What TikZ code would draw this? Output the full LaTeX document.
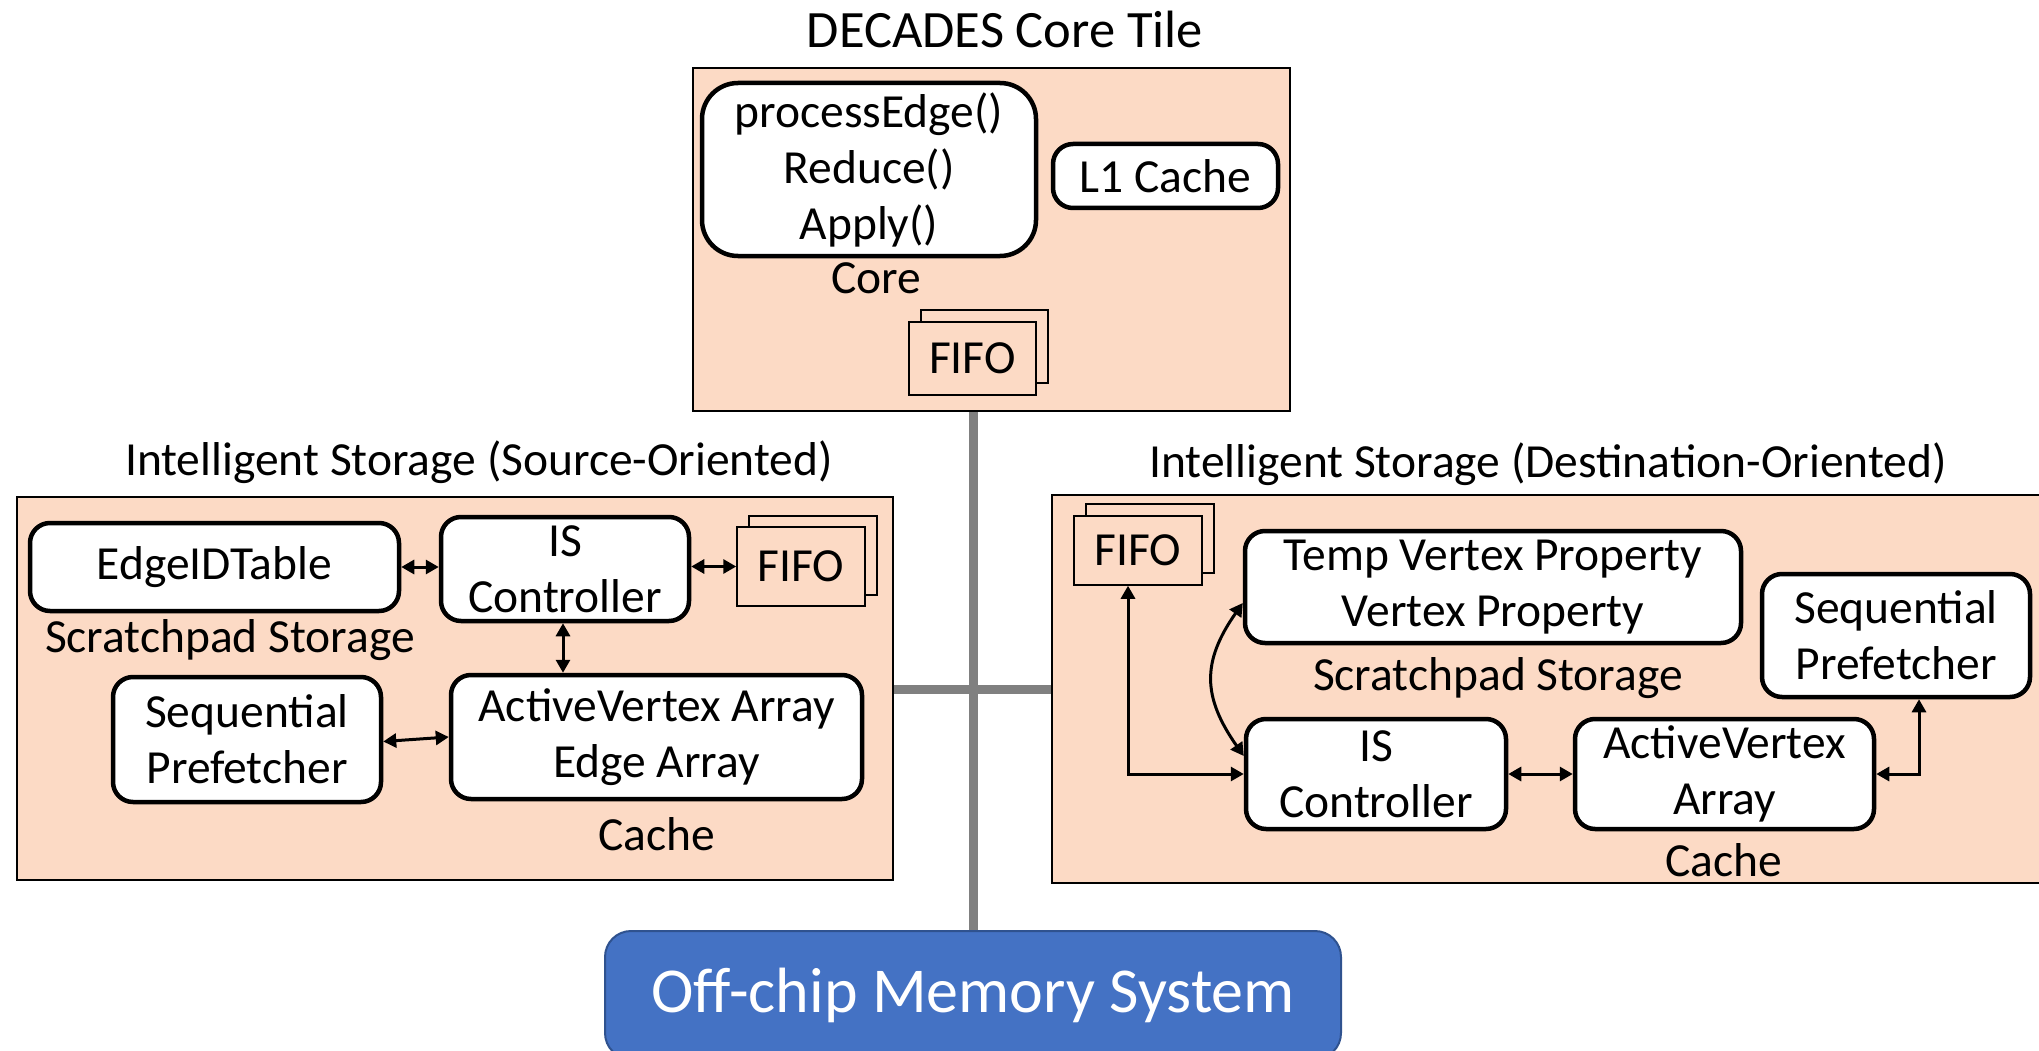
\documentclass[tikz,border=0pt]{standalone}
\usepackage{fontspec}
\setmainfont{Carlito}
\usetikzlibrary{arrows.meta}

\definecolor{peach}{HTML}{FCDAC5}
\definecolor{membg}{HTML}{4472C4}
\definecolor{memline}{HTML}{2F528F}
\definecolor{busgray}{HTML}{808080}

\tikzset{
  tile/.style={draw=black, line width=2pt, fill=peach},
  wbox/.style={draw=black, line width=4.5pt, rounded corners=20pt, fill=white,
    align=center, inner sep=0pt},
  fifobox/.style={draw=black, line width=1.5pt, fill=peach, inner sep=0pt},
  lbl/.style={inner sep=0pt},
  arr/.style={<->, line width=3pt, >={Triangle[length=13pt,width=14pt]}},
  bus/.style={draw=busgray, line width=9pt},
}

\begin{document}
\begin{tikzpicture}[x=1pt, y=-1pt, font=\fontsize{47.5pt}{56pt}\selectfont]
\useasboundingbox (0,0) rectangle (2039,1051);

% ---------- DECADES core tile ----------
\node[lbl, font=\fontsize{52.5pt}{60pt}\selectfont] (tiletitle) at (1005,29) {DECADES Core Tile};
\node[tile, minimum width=597pt, minimum height=343pt, inner sep=0pt] (tile) at (991.5,239.5) {};
\node[wbox, rounded corners=36pt, minimum width=334pt, minimum height=173pt] (core) at (869,169.5)
  {processEdge()\\Reduce()\\Apply()};
\node[lbl] (corelbl) at (876,278) {Core};
\node[wbox, minimum width=225pt, minimum height=64pt] (l1) at (1165.5,176) {L1 Cache};
\node[fifobox, minimum width=127pt, minimum height=73pt] (cfifoB) at (984.5,346.5) {};
\node[fifobox, minimum width=127pt, minimum height=73pt] (cfifo) at (972.5,358.5) {FIFO};

% ---------- memory and interconnect ----------
\node[draw=memline, line width=2pt, fill=membg, rounded corners=26pt,
  minimum width=736pt, minimum height=128pt, text=white,
  font=\fontsize{64pt}{70pt}\selectfont] (mem) at (973,995) {Off-chip Memory System};

% ---------- source-oriented intelligent storage ----------
\node[lbl] (srctitle) at (479,462) {Intelligent Storage (Source-Oriented)};
\node[tile, minimum width=876pt, minimum height=383pt, inner sep=0pt] (src) at (455,688.5) {};

% ---------- destination-oriented intelligent storage ----------
\node[lbl] (dsttitle) at (1548,464) {Intelligent Storage (Destination-Oriented)};
\node[tile, minimum width=1008pt, minimum height=388pt, inner sep=0pt] (dst) at (1556,689) {};

% bus between the tiles and memory
\draw[bus] (tile.south -| 973,0) -- (mem.north -| 973,0);
\draw[bus] (src.east |- 0,689) -- (dst.west |- 0,689);

% ---------- source side contents ----------
\node[wbox, minimum width=369pt, minimum height=88pt] (edgeid) at (214.5,567) {EdgeIDTable};
\node[wbox, minimum width=248pt, minimum height=104pt] (isL) at (565,569) {IS\\Controller};
\node[fifobox, minimum width=128pt, minimum height=79pt] (lfifoB) at (813,555.5) {};
\node[fifobox, minimum width=128pt, minimum height=79pt] (lfifo) at (801,566.5) {FIFO};
\node[lbl] (spL) at (230,640) {Scratchpad Storage};
\node[wbox, minimum width=268pt, minimum height=125pt] (seqL) at (247,739.5) {Sequential\\Prefetcher};
\node[wbox, minimum width=411pt, minimum height=124pt] (avL) at (656.5,737) {ActiveVertex Array\\Edge Array};
\node[lbl] (cacheL) at (657,834) {Cache};

\draw[arr] (edgeid.east) -- (isL.west |- edgeid.east);
\draw[arr] (isL.east |- lfifo.west) -- (lfifo.west);
\draw[arr] ([xshift=-2pt]isL.south) -- ([xshift=-2pt]isL.south |- avL.north);
\draw[arr] ([yshift=-2pt]seqL.east) -- (avL.west);

% ---------- destination side contents ----------
\node[fifobox, minimum width=128pt, minimum height=69pt] (rfifoB) at (1150,538.5) {};
\node[fifobox, minimum width=128pt, minimum height=69pt] (rfifo) at (1138,550.5) {FIFO};
\node[wbox, minimum width=496pt, minimum height=112pt] (vpR) at (1493,587) {Temp Vertex Property\\Vertex Property};
\node[lbl] (spR) at (1498,678) {Scratchpad Storage};
\node[wbox, minimum width=268pt, minimum height=123pt] (seqR) at (1896,635.5) {Sequential\\Prefetcher};
\node[wbox, minimum width=260pt, minimum height=110pt] (isR) at (1376,774) {IS\\Controller};
\node[wbox, minimum width=299pt, minimum height=110pt] (avR) at (1724.5,774) {ActiveVertex\\Array};
\node[lbl] (cacheR) at (1724,860) {Cache};

\draw[arr] ([xshift=-10pt]rfifo.south) |- (isR.west);
\draw[arr] ([yshift=-16pt]vpR.west) to[out=235, in=125, looseness=1.2] ([yshift=18pt]isR.west);
\draw[arr] (isR.east) -- (avR.west);
\draw[arr] (avR.east) -| ([xshift=23pt]seqR.south);
\end{tikzpicture}
\end{document}
